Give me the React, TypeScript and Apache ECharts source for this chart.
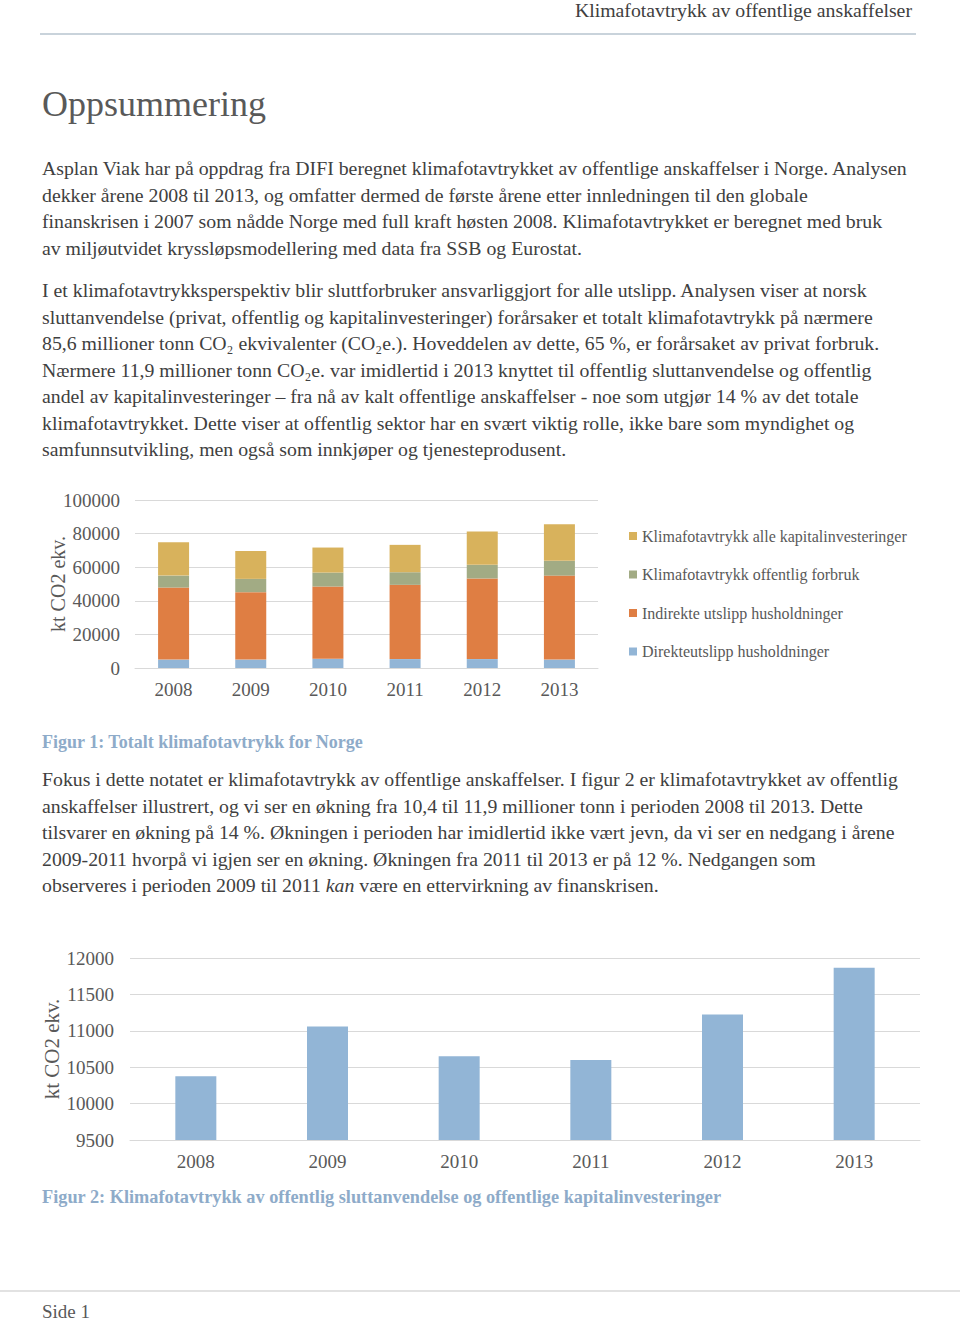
import React, { useEffect, useRef } from "react";
import * as echarts from "echarts";

const years = ["2008", "2009", "2010", "2011", "2012", "2013"];
const direkte = [5000, 5000, 5500, 5300, 5300, 5000];
const indirekte = [42900, 40150, 43000, 44200, 48000, 50000];
const offentligForbruk = [7100, 7900, 8300, 7500, 8100, 8800];
const kapital = [19850, 16600, 14900, 16300, 19800, 21700];
const offentligeAnskaffelser = [10375, 11060, 10650, 10600, 11225, 11865];

const seriesNames = [
  "Klimafotavtrykk alle kapitalinvesteringer",
  "Klimafotavtrykk offentlig forbruk",
  "Indirekte utslipp husholdninger",
  "Direkteutslipp husholdninger",
];
const axis1Ticks = { min: 0, max: 100000, interval: 20000 };
const axis2Ticks = { min: 9500, max: 12000, interval: 500 };
const yName = "kt CO2 ekv.";

const headerText = "Klimafotavtrykk av offentlige anskaffelser";
const title = "Oppsummering";
const para1 = [
  "Asplan Viak har på oppdrag fra DIFI beregnet klimafotavtrykket av offentlige anskaffelser i Norge. Analysen",
  "dekker årene 2008 til 2013, og omfatter dermed de første årene etter innledningen til den globale",
  "finanskrisen i 2007 som nådde Norge med full kraft høsten 2008. Klimafotavtrykket er beregnet med bruk",
  "av miljøutvidet kryssløpsmodellering med data fra SSB og Eurostat.",
];
const para2 = [
  "I et klimafotavtrykksperspektiv blir sluttforbruker ansvarliggjort for alle utslipp. Analysen viser at norsk",
  "sluttanvendelse (privat, offentlig og kapitalinvesteringer) forårsaker et totalt klimafotavtrykk på nærmere",
  "85,6 millioner tonn CO₂ ekvivalenter (CO₂e.). Hoveddelen av dette, 65 %, er forårsaket av privat forbruk.",
  "Nærmere 11,9 millioner tonn CO₂e. var imidlertid i 2013 knyttet til offentlig sluttanvendelse og offentlig",
  "andel av kapitalinvesteringer – fra nå av kalt offentlige anskaffelser - noe som utgjør 14 % av det totale",
  "klimafotavtrykket. Dette viser at offentlig sektor har en svært viktig rolle, ikke bare som myndighet og",
  "samfunnsutvikling, men også som innkjøper og tjenesteprodusent.",
];
const caption1 = "Figur 1: Totalt klimafotavtrykk for Norge";
const para3 = [
  "Fokus i dette notatet er klimafotavtrykk av offentlige anskaffelser. I figur 2 er klimafotavtrykket av offentlig",
  "anskaffelser illustrert, og vi ser en økning fra 10,4 til 11,9 millioner tonn i perioden 2008 til 2013. Dette",
  "tilsvarer en økning på 14 %. Økningen i perioden har imidlertid ikke vært jevn, da vi ser en nedgang i årene",
  "2009-2011 hvorpå vi igjen ser en økning. Økningen fra 2011 til 2013 er på 12 %. Nedgangen som",
  "observeres i perioden 2009 til 2011 {i|kan} være en ettervirkning av finanskrisen.",
];
const caption2 =
  "Figur 2: Klimafotavtrykk av offentlig sluttanvendelse og offentlige kapitalinvesteringer";
const footerText = "Side 1";

const FONT = "'Liberation Serif', 'DejaVu Serif', serif";
const BODY = "#404040";
const GRAY = "#595959";
const BODY_SIZE = 19.8;
const COLORS = {
  kapital: "#d8b25c",
  forbruk: "#a2ab84",
  indirekte: "#df7e43",
  direkte: "#92b5d6",
};

function bodyLines(lines: string[], startY: number, step: number) {
  return lines.map((t, i) => ({
    type: "text",
    x: 42,
    y: startY + i * step,
    style: {
      text: t,
      fill: BODY,
      font: `${BODY_SIZE}px ${FONT}`,
      fontFamily: FONT,
      fontSize: BODY_SIZE,
      textVerticalAlign: "middle",
      verticalAlign: "middle",
      rich: {
        i: { fontStyle: "italic", fontSize: BODY_SIZE, fontFamily: FONT, fill: BODY },
      },
    },
  }));
}

function axisName(x: number, y: number, size: number) {
  return {
    type: "text",
    x,
    y,
    rotation: Math.PI / 2,
    style: {
      text: yName,
      fill: GRAY,
      font: `${size}px ${FONT}`,
      textAlign: "center",
      textVerticalAlign: "middle",
      align: "center",
      verticalAlign: "middle",
    },
  };
}

export default function App() {
  const ref = useRef<HTMLDivElement>(null);
  useEffect(() => {
    if (!ref.current) return;
    const chart = echarts.init(ref.current, null, { renderer: "svg" });
    const axisLabel = {
      color: GRAY,
      fontFamily: FONT,
      fontSize: 19,
      formatter: (v: any) => String(v),
    };
    const option: any = {
      animation: false,
      backgroundColor: "#ffffff",
      textStyle: { fontFamily: FONT },
      grid: [
        { left: 135, top: 500, width: 463, height: 168 },
        { left: 130, top: 958, width: 790, height: 182 },
      ],
      xAxis: [
        {
          type: "category",
          gridIndex: 0,
          data: years,
          axisLine: { lineStyle: { color: "#d9d9d9" } },
          axisTick: { show: false },
          axisLabel: { ...axisLabel, margin: 12 },
        },
        {
          type: "category",
          gridIndex: 1,
          data: years,
          axisLine: { lineStyle: { color: "#d9d9d9" } },
          axisTick: { show: false },
          axisLabel: { ...axisLabel, margin: 12 },
        },
      ],
      yAxis: [
        {
          type: "value",
          gridIndex: 0,
          ...axis1Ticks,
          axisLine: { show: false },
          axisTick: { show: false },
          axisLabel: { ...axisLabel, margin: 15 },
          splitLine: { lineStyle: { color: "#d9d9d9" } },
        },
        {
          type: "value",
          gridIndex: 1,
          ...axis2Ticks,
          axisLine: { show: false },
          axisTick: { show: false },
          axisLabel: { ...axisLabel, margin: 16 },
          splitLine: { lineStyle: { color: "#d9d9d9" } },
        },
      ],
      legend: {
        orient: "vertical",
        left: 629,
        top: 528,
        padding: 0,
        itemWidth: 8,
        itemHeight: 8,
        itemGap: 22.5,
        icon: "rect",
        data: seriesNames,
        textStyle: { color: GRAY, fontFamily: FONT, fontSize: 16 },
      },
      series: [
        {
          name: seriesNames[3],
          type: "bar",
          stack: "total",
          xAxisIndex: 0,
          yAxisIndex: 0,
          barWidth: 31,
          data: direkte,
          itemStyle: { color: COLORS.direkte },
        },
        {
          name: seriesNames[2],
          type: "bar",
          stack: "total",
          xAxisIndex: 0,
          yAxisIndex: 0,
          barWidth: 31,
          data: indirekte,
          itemStyle: { color: COLORS.indirekte },
        },
        {
          name: seriesNames[1],
          type: "bar",
          stack: "total",
          xAxisIndex: 0,
          yAxisIndex: 0,
          barWidth: 31,
          data: offentligForbruk,
          itemStyle: { color: COLORS.forbruk },
        },
        {
          name: seriesNames[0],
          type: "bar",
          stack: "total",
          xAxisIndex: 0,
          yAxisIndex: 0,
          barWidth: 31,
          data: kapital,
          itemStyle: { color: COLORS.kapital },
        },
        {
          name: "Offentlige anskaffelser",
          type: "bar",
          xAxisIndex: 1,
          yAxisIndex: 1,
          barWidth: 41,
          data: offentligeAnskaffelser,
          itemStyle: { color: COLORS.direkte },
        },
      ],
      graphic: [
        {
          type: "text",
          x: 912,
          y: 10,
          style: {
            text: headerText,
            fill: BODY,
            font: `${BODY_SIZE}px ${FONT}`,
            textAlign: "right",
            textVerticalAlign: "middle",
            align: "right",
            verticalAlign: "middle",
          },
        },
        {
          type: "line",
          shape: { x1: 40, y1: 34, x2: 916, y2: 34 },
          style: { stroke: "#b7c5cf", lineWidth: 1.5 },
        },
        {
          type: "text",
          x: 42,
          y: 104,
          style: {
            text: title,
            fill: GRAY,
            font: `36px ${FONT}`,
            textVerticalAlign: "middle",
            verticalAlign: "middle",
          },
        },
        ...bodyLines(para1, 168, 26.5),
        ...bodyLines(para2, 290, 26.5),
        axisName(57.5, 584, 20),
        {
          type: "text",
          x: 42,
          y: 742,
          style: {
            text: caption1,
            fill: "#8eabc9",
            font: `bold 18px ${FONT}`,
            textVerticalAlign: "middle",
            verticalAlign: "middle",
          },
        },
        ...bodyLines(para3, 779, 26.5),
        axisName(51.5, 1049, 21),
        {
          type: "text",
          x: 42,
          y: 1197,
          style: {
            text: caption2,
            fill: "#8eabc9",
            font: `bold 18.3px ${FONT}`,
            textVerticalAlign: "middle",
            verticalAlign: "middle",
          },
        },
        {
          type: "line",
          shape: { x1: 0, y1: 1291, x2: 960, y2: 1291 },
          style: { stroke: "#d9d9d9", lineWidth: 1.5 },
        },
        {
          type: "text",
          x: 42,
          y: 1311,
          style: {
            text: footerText,
            fill: GRAY,
            font: `19px ${FONT}`,
            textVerticalAlign: "middle",
            verticalAlign: "middle",
          },
        },
      ],
    };
    chart.setOption(option);
    return () => chart.dispose();
  }, []);
  return (
    <div
      ref={ref}
      style={{ position: "absolute", left: 0, top: 0, width: 960, height: 1322 }}
    />
  );
}
